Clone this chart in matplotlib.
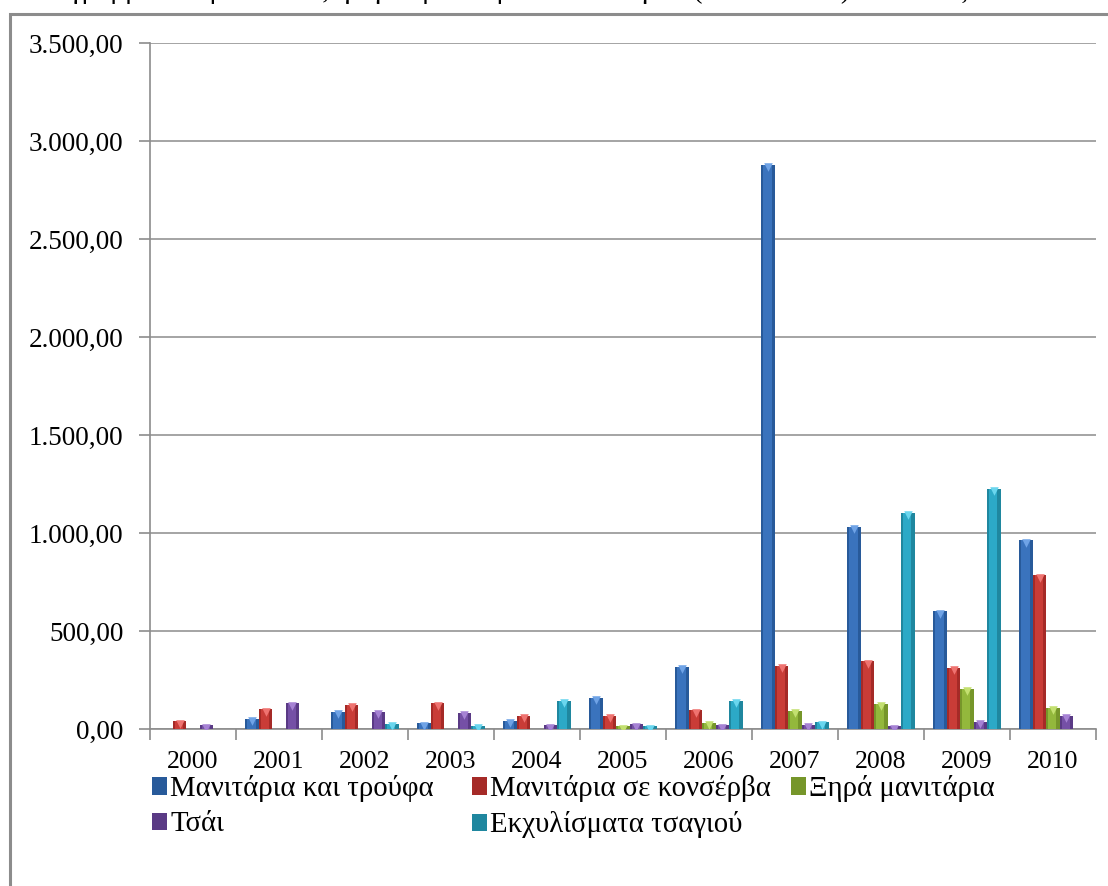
import matplotlib
matplotlib.use("Agg")
import matplotlib.pyplot as plt
import numpy as np
from matplotlib.patches import Rectangle
from matplotlib.ticker import FuncFormatter

years = ["2000", "2001", "2002", "2003", "2004", "2005", "2006", "2007", "2008", "2009", "2010"]
series_names = ["Μανιτάρια και τρούφα", "Μανιτάρια σε κονσέρβα", "Ξηρά μανιτάρια",
                "Τσάι", "Εκχυλίσματα τσαγιού"]
mushrooms_truffles = [2, 52, 88, 29, 43, 160, 316, 2880, 1030, 600, 962]
canned_mushrooms = [40, 100, 124, 131, 66, 66, 95, 321, 345, 311, 784]
dried_mushrooms = [0, 0, 0, 0, 0, 14, 32, 93, 130, 206, 107]
tea = [18, 131, 88, 83, 19, 24, 19, 20, 14, 36, 68]
tea_extracts = [0, 0, 25, 17, 143, 14, 143, 34, 1102, 1224, 0]
title = "Διάγραμμα 4: Προϊόντα εξαγωγών μανιταριών και τσαγιού (2000 – 2010) σε τόνους"

series = [mushrooms_truffles, canned_mushrooms, dried_mushrooms, tea, tea_extracts]
base_colors = ["#3a73bd", "#c93c37", "#93b83c", "#7550a6", "#2ca9c7"]
edge_colors = ["#285a9a", "#a52a27", "#76962a", "#5a3a85", "#1f879f"]
tip_colors = ["#6fa3e6", "#ef7370", "#c3e070", "#a682d4", "#6ad6ee"]

plt.rcParams['font.family'] = ['Liberation Serif', 'DejaVu Serif']

fig = plt.figure(figsize=(11.08, 8.86), dpi=100)
ax = fig.add_axes([150/1108, 1-729/886, (1096-150)/1108, (729-43)/886])

x = np.arange(len(years))
bw = 0.156
offsets = (np.arange(5) - 2) * bw
for i, vals in enumerate(series):
    v = np.array(vals, dtype=float)
    ax.bar(x + offsets[i], v, width=bw, color=edge_colors[i], zorder=3,
           label=series_names[i], linewidth=0)
    ax.bar(x + offsets[i] - bw*0.05, v, width=bw*0.6, color=base_colors[i], zorder=4, linewidth=0)
    m = v > 8
    ax.scatter((x + offsets[i])[m], v[m] - 12, marker='v', s=38, color=tip_colors[i],
               zorder=5, linewidths=0)

ax.set_ylim(0, 3500)
ax.set_yticks(np.arange(0, 3501, 500))
ax.yaxis.set_major_formatter(FuncFormatter(
    lambda v, p: "{:,.2f}".format(v).replace(",", "X").replace(".", ",").replace("X", ".")))
ax.set_xlim(-0.5, len(years) - 0.5)
ax.set_xticks(x)
ax.set_xticklabels(years)
ax.set_xticks(np.arange(len(years) + 1) - 0.5, minor=True)
ax.tick_params(axis='x', which='major', length=0, labelsize=18.5, pad=16)
ax.tick_params(axis='x', which='minor', length=8, color='#8c8c8c', width=1.2, direction='out')
ax.tick_params(axis='y', length=8, color='#8c8c8c', width=1.2, labelsize=19.5, pad=11)
ax.grid(axis='y', color='#8c8c8c', linewidth=1.1, zorder=0)
ax.set_axisbelow(True)
for s in ['top', 'right']:
    ax.spines[s].set_visible(False)
for s in ['left', 'bottom']:
    ax.spines[s].set_color('#8c8c8c')
    ax.spines[s].set_linewidth(1.2)

handles, labels = ax.get_legend_handles_labels()
columns = [[0, 3], [1, 4], [2]]
col_x = [152, 472, 791]
for col, cx in zip(columns, col_x):
    lg = fig.legend([handles[k] for k in col], [labels[k] for k in col],
                    loc='upper left', bbox_to_anchor=(cx/1108, 1-775/886), ncol=1,
                    frameon=False, fontsize=20.7, handlelength=0.52, handleheight=0.56,
                    handletextpad=0.12, labelspacing=0.33,
                    borderpad=0, borderaxespad=0)

fig.patches.append(Rectangle((10/1108, -0.1), 2, (886-14)/886 + 0.1, transform=fig.transFigure,
                             fill=False, edgecolor='#8c8c8c', linewidth=2.2))

fig.text(30/1108, 1 + 9/886, title, fontsize=20, va='center', ha='left')

fig.savefig("out.png", dpi=100)
